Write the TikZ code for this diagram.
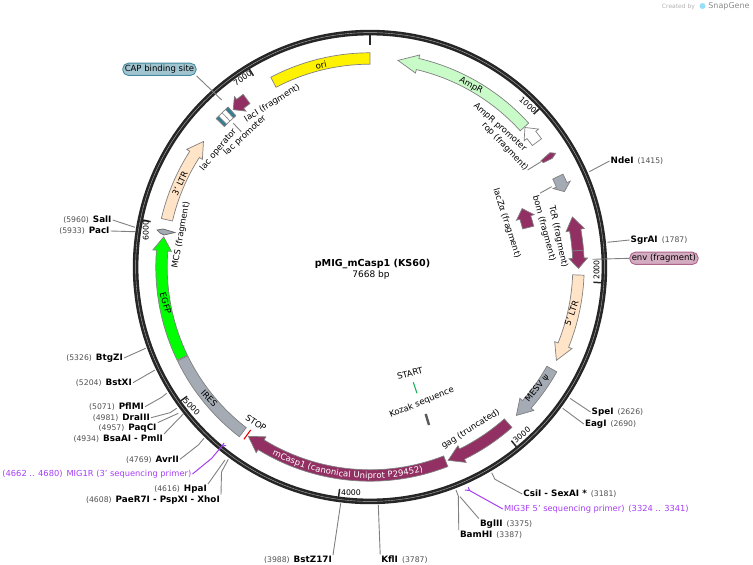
\documentclass[tikz,border=0pt]{standalone}
\usepackage{fontspec}
\setmainfont{DejaVu Sans}
\usetikzlibrary{decorations.text}

\definecolor{maroon}{HTML}{933063}
\definecolor{peach}{HTML}{FFE4C8}
\definecolor{ampgreen}{HTML}{C8FBC8}
\definecolor{greyfeat}{HTML}{A4ABB4}
\definecolor{teal}{HTML}{2E7F97}
\definecolor{primer}{HTML}{A63DF5}
\definecolor{conn}{HTML}{808080}
\definecolor{numgrey}{HTML}{505050}

\newcommand{\lbl}{\fontsize{8.5}{10}\selectfont}
\newcommand{\boldlbl}{\fontsize{8.8}{10}\selectfont\bfseries}
\newcommand{\cutnum}[1]{{\mdseries\color{numgrey}\fontsize{7.7}{9}\selectfont(#1)}}
\newcommand{\gap}{\hspace{4pt}}

% r, tail, base, tip in degrees
\newcommand{\featarrow}[5]{
    \draw[#1] (#3:#2+5.7) arc[start angle=#3,end angle=#4,radius=#2+5.7]
        -- (#4:#2+9.3) -- (#5:#2) -- (#4:#2-9.3) -- (#4:#2-5.7)
        arc[start angle=#4,end angle=#3,radius=#2-5.7] -- cycle;
}
\newcommand{\featbox}[4]{
    \draw[#1] (#3:#2+5.7) arc[start angle=#3,end angle=#4,radius=#2+5.7]
        -- (#4:#2-5.7) arc[start angle=#4,end angle=#3,radius=#2-5.7] -- cycle;
}

\begin{document}
\begin{tikzpicture}[x=1pt,y=1pt,font=\lbl]
        \tikzstyle{feat}=[draw=conn,line width=.7pt]
        \tikzstyle{line}=[draw=conn,line width=.9pt]
        \tikzstyle{pline}=[draw=primer,line width=1pt]
        \tikzstyle{cut}=[inner sep=1pt,font=\boldlbl]
        \tikzstyle{tag}=[inner sep=1pt]
        \tikzstyle{ticklbl}=[inner sep=1pt,font=\fontsize{7.8}{9}\selectfont]
        \tikzstyle{prim}=[inner sep=1pt,text=primer,font=\fontsize{8.3}{10}\selectfont]
        \tikzstyle{pill}=[draw,rounded corners=5.5pt,minimum height=12pt,inner sep=2pt,line width=.9pt]

        \path[use as bounding box] (0,0) rectangle (753,-565);

        \begin{scope}[shift={(370,-267)}]
        % backbone
        \draw[line width=5.6pt,black!85] (0,0) circle (234.4);
        \draw[line width=.4pt,white!70!black] (0,0) circle (234.4);
        \draw[line width=1.5pt,black!85] (90:232) -- (90:222);
        \foreach \bp in {1000,2000,...,7000} {
            \pgfmathsetmacro\ang{90-\bp/7668*360}
            \draw[line width=1.5pt,black!85] (\ang:232) -- (\ang:224);
        };

        % features
        \featbox{feat,fill=yellow}{208.5}{90}{117.6}
        \featarrow{feat,fill=white}{208.5}{36.8}{39.3}{42}
        \featarrow{feat,fill=ampgreen}{208.5}{42.2}{76.8}{82.3}
        \featarrow{feat,fill=greyfeat}{208.5}{25.7}{23.2}{21.2}
        \featarrow{feat,fill=maroon}{208.5}{4.5}{10.2}{13.9}
        \featarrow{feat,fill=maroon}{208.5}{4.5}{2.4}{-0.4}
        \featarrow{feat,fill=maroon}{163}{14}{17.7}{21}
        \featarrow{feat,fill=peach}{208.5}{-2.2}{-22}{-26.6}
        \featarrow{feat,fill=greyfeat}{208.5}{-29.3}{-41.2}{-45.4}
        \featarrow{feat,fill=maroon}{208.5}{-48.5}{-63.8}{-68}
        \featarrow{feat,fill=maroon}{208.5}{-68.7}{-121.5}{-125.7}
        \featbox{feat,fill=greyfeat}{208.5}{206}{232.4}
        \featarrow{feat,fill=green}{208.5}{205.8}{175.5}{171.7}
        \featarrow{feat,fill=peach}{208.5}{166.9}{147.3}{143}
        \featarrow{feat,fill=maroon}{208.5}{126.3}{128.5}{131}
        \featbox{feat,fill=white}{208}{131.6}{136}
        \featbox{feat,fill=teal}{208}{131.6}{132.5}
        \featbox{feat,fill=teal}{208}{135.1}{136}
        \draw[conn,line width=.6pt] (133.8:202.3) -- (133.8:213.7);
        \draw[red!90!black,line width=1.1pt] (233.8:202) -- (233.8:213.5);

        % curved label
        \path[decorate,decoration={text along path,text align=center,raise=-3pt,
            text={|\lbl\color{white}|mCasp1 (canonical Uniprot P29452)}}]
            (240:208.5) arc[start angle=240,end angle=287,radius=208.5];
        \end{scope}

        % small features off the ring
        \draw[feat,fill=maroon] (541,-160.7) -- (550,-152.7) -- (555.7,-153.3) -- (552.3,-158.3) -- (543.3,-162.7) -- cycle;
        \draw[feat,fill=greyfeat,draw=black!60] (157,-230) -- (163,-229) -- (175,-232.5) -- (164,-235) -- (160,-233) -- cycle;
        \draw[teal!60!green,line width=1.1pt] (413.3,-382.3) -- (417,-393.3);
        \draw[black!65,line width=2.4pt] (425.7,-414) -- (429,-425);

        % tick labels
        \foreach \bp/\px/\py/\rot in {1000/528/105/-42,2000/596.5/270/90,3000/521.7/435/40,4000/351/492.3/0,5000/191.7/406.7/-45,6000/145.7/230.7/90,7000/242.7/78.3/33} {
            \node[ticklbl,rotate=\rot] (tick\bp) at (\px,-\py) {\bp};
        };

        % title
        \node[tag,font=\fontsize{9.6}{11}\selectfont\bfseries] (title) at (372.5,-264) {pMIG\_mCasp1 (KS60)};
        \node[tag,font=\fontsize{9}{11}\selectfont] (size) at (371,-275) {7668 bp};

        % feature labels
        \node[tag,rotate=13] (ori) at (321,-65) {ori};
        \node[tag,rotate=-29] (ampr) at (471,-85.7) {AmpR};
        \node[tag,rotate=-42] (amprp) at (500,-127.3) {AmpR promoter};
        \node[tag,rotate=-46] (rop) at (505,-146.7) {rop (fragment)};
        \node[tag,rotate=-72] (lacz) at (506.7,-223.3) {lacZα (fragment)};
        \node[tag,rotate=-75] (bom) at (544,-228.3) {bom (fragment)};
        \node[tag,rotate=-78] (tcr) at (558.3,-236.7) {TcR (fragment)};
        \node[tag,rotate=70] (ltrf) at (571.7,-313.3) {5' LTR};
        \node[tag,rotate=51] (mesv) at (537.3,-388.3) {MESV ψ};
        \node[tag,rotate=32] (gag) at (470.7,-429.3) {gag (truncated)};
        \node[tag,rotate=22] (kozak) at (421.7,-402.7) {Kozak sequence};
        \node[tag,rotate=15] (start) at (410,-373.3) {START};
        \node[tag,rotate=-33] (stop) at (256,-423) {STOP};
        \node[tag,rotate=-47] (ires) at (209.3,-398.3) {IRES};
        \node[tag,rotate=-74] (egfp) at (165.7,-303.3) {EGFP};
        \node[tag,rotate=80] (mcs) at (181,-235) {MCS (fragment)};
        \node[tag,rotate=65] (ltrt) at (180,-183.3) {3' LTR};
        \node[tag,rotate=50] (lacop) at (218.3,-150) {lac operator};
        \node[tag,rotate=43] (lacp) at (245,-135.7) {lac promoter};
        \node[tag,rotate=32] (laci) at (272.3,-103.3) {lacI (fragment)};

        % pills
        \node[pill,draw=maroon!75,fill=maroon!40,anchor=west] (env) at (629.3,-258.3) {env (fragment)};
        \node[pill,draw=teal!90,fill=teal!45,anchor=west] (cap) at (122.3,-69.3) {CAP binding site};

        % sites, right and below
        \node[cut,anchor=west] (ndei) at (609.5,-161) {NdeI\gap\cutnum{1415}};
        \node[cut,anchor=west] (sgrai) at (629.5,-240) {SgrAI\gap\cutnum{1787}};
        \node[cut,anchor=west] (spei) at (590.5,-412) {SpeI\gap\cutnum{2626}};
        \node[cut,anchor=west] (eagi) at (583.8,-424) {EagI\gap\cutnum{2690}};
        \node[cut,anchor=west] (csii) at (522.2,-494) {CsiI - SexAI *\gap\cutnum{3181}};
        \node[prim,anchor=west] (mig3) at (502.8,-509) {MIG3F 5' sequencing primer)\gap(3324 .. 3341)};
        \node[cut,anchor=west] (bglii) at (478.8,-524) {BglII\gap\cutnum{3375}};
        \node[cut,anchor=west] (bamhi) at (458.8,-535) {BamHI\gap\cutnum{3387}};
        \node[cut,anchor=west] (kfli) at (380.2,-559.5) {KflI\gap\cutnum{3787}};

        % sites, left
        \node[cut,anchor=east] (bstz) at (333,-560) {\cutnum{3988}\gap BstZ17I};
        \node[cut,anchor=east] (paer) at (221,-500) {\cutnum{4608}\gap PaeR7I - PspXI - XhoI};
        \node[cut,anchor=east] (hpai) at (208,-489.3) {\cutnum{4616}\gap HpaI};
        \node[prim,anchor=east] (mig1) at (192.5,-474) {(4662 .. 4680)\gap MIG1R (3' sequencing primer)};
        \node[cut,anchor=east] (avrii) at (180,-459.3) {\cutnum{4769}\gap AvrII};
        \node[cut,anchor=east] (bsaai) at (164,-439) {\cutnum{4934}\gap BsaAI - PmlI};
        \node[cut,anchor=east] (paqci) at (157.7,-428) {\cutnum{4957}\gap PaqCI};
        \node[cut,anchor=east] (draiii) at (151,-417.7) {\cutnum{4981}\gap DraIII};
        \node[cut,anchor=east] (pflmi) at (145,-406.7) {\cutnum{5071}\gap PflMI};
        \node[cut,anchor=east] (bstxi) at (133,-382.7) {\cutnum{5204}\gap BstXI};
        \node[cut,anchor=east] (btgzi) at (124,-358) {\cutnum{5326}\gap BtgZI};
        \node[cut,anchor=east] (paci) at (110.7,-231) {\cutnum{5933}\gap PacI};
        \node[cut,anchor=east] (sali) at (112.7,-220) {\cutnum{5960}\gap SalI};

        % free ends on the ring
        \coordinate (ndeiend) at (589.3,-171.7);
        \coordinate (sgraiend) at (607.3,-242.3);
        \coordinate (envend) at (592.7,-259.3);
        \coordinate (speiend) at (570,-398.3);
        \coordinate (eagiend) at (562.7,-408.3);
        \coordinate (csiiend) at (491.7,-472.7);
        \coordinate (mig3end) at (465,-490);
        \coordinate (bgliiend) at (460,-496.7);
        \coordinate (bamhiend) at (456,-490);
        \coordinate (kfliend) at (378.3,-505);
        \coordinate (bstzend) at (340.7,-503.3);
        \coordinate (paerend) at (228.3,-459.3);
        \coordinate (hpaiend) at (225,-460);
        \coordinate (mig1end) at (224,-443);
        \coordinate (avriiend) at (204,-438.3);
        \coordinate (bsaaiend) at (183.3,-414);
        \coordinate (paqciend) at (178.3,-413.3);
        \coordinate (draiiiend) at (176.7,-408.3);
        \coordinate (pflmiend) at (166.7,-393.3);
        \coordinate (bstxiend) at (155,-370);
        \coordinate (btgziend) at (145.7,-348.3);
        \coordinate (paciend) at (135,-231.7);
        \coordinate (saliend) at (135,-227.3);
        \coordinate (capend) at (221.7,-100);
        \coordinate (lacpend) at (233.3,-123.3);
        \coordinate (ropend) at (541,-161.7);
        \coordinate (bomend) at (551.7,-186.7);

        % connectors
        \draw[line] (ndei.west) -- (ndeiend);
        \draw[line] (sgrai.west) -- (sgraiend);
        \draw[line] (env.west) -- (envend);
        \draw[line] (spei.west) -- (speiend);
        \draw[line] (eagi.west) -- (eagiend);
        \draw[line] (csii.west) -- (495,-479.3) -- (csiiend);
        \draw[pline] (mig3.west) -- (469.5,-490.5) -- (468.3,-487.3) (469.5,-490.5) -- (mig3end);
        \draw[line] (bglii.north west) -- (bgliiend);
        \draw[line] (bamhi.north west) -- (458.3,-496) -- (bamhiend);
        \draw[line] (kfli.north west) -- (kfliend);
        \draw[line] (bstz.north east) -- (bstzend);
        \draw[line] (paer.north east) -- (221.5,-472) -- (paerend);
        \draw[line] (hpai.north east) -- (hpaiend);
        \draw[pline] (mig1.east) -- (211.7,-458.3) -- (222,-446) -- (mig1end) (222,-446) -- (226,-445.5);
        \draw[line] (avrii.east) -- (198.3,-445) -- (avriiend);
        \draw[line] (bsaai.north east) -- (bsaaiend);
        \draw[line] (paqci.north east) -- (paqciend);
        \draw[line] (draiii.east) -- (170,-412.7) -- (draiiiend);
        \draw[line] (pflmi.east) -- (161.7,-397.3) -- (pflmiend);
        \draw[line] (bstxi.east) -- (bstxiend);
        \draw[line] (btgzi.east) -- (btgziend);
        \draw[line] (paci.east) -- (paciend);
        \draw[line] (sali.east) -- (saliend);
        \draw[line] (cap.south east) -- (capend);
        \draw[line] (lacp.north) -- (lacpend);
        \draw[line] (rop.east) -- (ropend);
        \draw[line] (bom.north west) -- (bomend);

        % logo
        \node[tag,text=black!30,font=\fontsize{6}{7}\selectfont] (created) at (678.5,-6.5) {Created by};
        \fill[cyan!40] (702.5,-6) circle (3);
        \node[tag,text=black!45,font=\fontsize{8}{9}\selectfont] (snapgene) at (729,-6.5) {SnapGene};
\end{tikzpicture}
\end{document}
